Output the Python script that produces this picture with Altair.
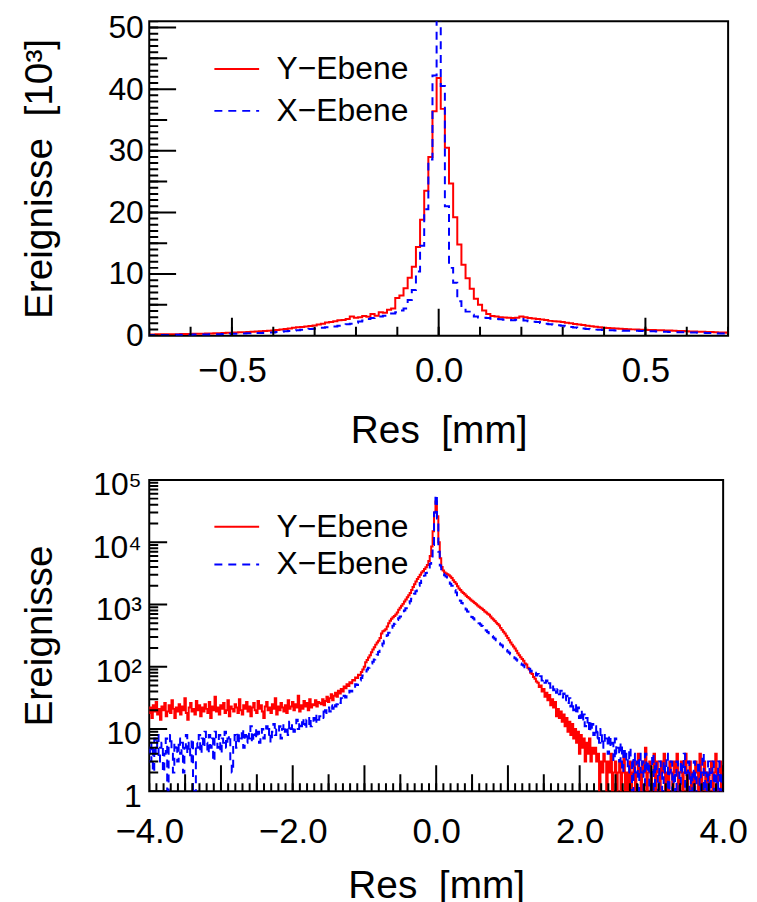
import altair as alt
import pandas as pd
import numpy as np

# ------------------------------------------------------------------ data
SERIES = ["Y\u2212Ebene", "X\u2212Ebene"]
COLORS = ["#ff0000", "#0000ff"]

# top panel: bins of 0.01 mm, centres k*0.01 for k = -70..70, counts in 10^3
top_bin = 0.01
top_first_centre = -0.70
red_top = [
    0.20, 0.20, 0.21, 0.22, 0.22, 0.23, 0.24, 0.25, 0.26, 0.27,
    0.29, 0.30, 0.32, 0.33, 0.35, 0.37, 0.39, 0.41, 0.43, 0.46,
    0.49, 0.51, 0.54, 0.57, 0.60, 0.64, 0.68, 0.72, 0.76, 0.80,
    0.85, 0.92, 1.00, 1.08, 1.18, 1.28, 1.35, 1.42, 1.50, 1.58,
    1.66, 1.80, 1.92, 2.15, 2.20, 2.35, 2.50, 2.55, 2.70, 3.10,
    2.90, 3.00, 3.20, 3.05, 3.50, 3.25, 3.80, 3.70, 4.20, 4.40,
    6.10, 6.50, 7.70, 9.40, 11.2, 14.4, 18.8, 23.5, 29.0, 36.4,
    41.8,
    36.8, 30.5, 24.7, 19.2, 14.8, 11.5, 9.3, 7.6, 6.0, 5.0,
    4.1, 3.5, 3.2, 3.1, 3.0, 2.95, 2.9, 2.85, 2.9, 3.1,
    3.0, 2.85, 2.8, 2.7, 2.62, 2.55, 2.4, 2.35, 2.28, 2.2,
    2.1, 2.0, 1.9, 1.8, 1.72, 1.62, 1.52, 1.45, 1.38, 1.3,
    1.25, 1.2, 1.15, 1.12, 1.08, 1.05, 1.02, 1.0, 0.98, 0.95,
    0.93, 0.9, 0.88, 0.86, 0.84, 0.82, 0.8, 0.77, 0.74, 0.7,
    0.68, 0.66, 0.64, 0.62, 0.6, 0.58, 0.56, 0.53, 0.5, 0.48,
]
blue_top = [
    0.10, 0.10, 0.11, 0.11, 0.12, 0.12, 0.13, 0.13, 0.14, 0.15,
    0.16, 0.17, 0.18, 0.19, 0.20, 0.21, 0.22, 0.24, 0.26, 0.28,
    0.30, 0.32, 0.34, 0.36, 0.38, 0.40, 0.42, 0.44, 0.47, 0.50,
    0.53, 0.58, 0.63, 0.70, 0.76, 0.82, 0.88, 0.95, 1.02, 1.08,
    1.12, 1.20, 1.28, 1.35, 1.42, 1.50, 1.62, 1.70, 1.85, 1.95,
    2.10, 2.30, 2.45, 2.70, 2.85, 3.00, 3.10, 3.25, 3.40, 3.60,
    3.80, 4.10, 4.40, 5.80, 7.40, 10.4, 14.6, 20.5, 28.6, 42.2,
    60.0,
    40.5, 21.0, 11.0, 8.6, 5.6, 4.6, 3.9, 3.4, 3.1, 2.95,
    2.9, 2.85, 2.75, 2.7, 2.65, 2.6, 2.55, 2.5, 2.6, 2.7,
    2.45, 2.35, 2.25, 2.2, 2.05, 1.95, 1.85, 1.78, 1.7, 1.6,
    1.5, 1.42, 1.32, 1.25, 1.15, 1.1, 1.03, 0.98, 0.95, 0.92,
    0.88, 0.86, 0.84, 0.82, 0.8, 0.8, 0.79, 0.78, 0.76, 0.74,
    0.72, 0.7, 0.67, 0.65, 0.63, 0.61, 0.59, 0.57, 0.55, 0.54,
    0.52, 0.5, 0.48, 0.46, 0.44, 0.42, 0.4, 0.37, 0.34, 0.3,
]

# bottom panel: bins of 0.02 mm, centres -4.00 .. 4.00, counts
bot_bin = 0.02
bot_first_centre = -4.00
red_bot = [
    # -4.00 .. -1.62
    18, 22, 15, 24, 19, 27, 17, 21, 14, 23, 20, 26, 16, 19, 24, 18, 29, 21, 15, 22,
    19, 25, 17, 23, 20, 31, 18, 14, 22, 26, 19, 21, 17, 28, 20, 24, 16, 22, 19, 25,
    21, 18, 27, 15, 23, 20, 33, 19, 22, 17, 24, 21, 26, 18, 20, 29, 16, 23, 21, 19,
    25, 22, 18, 30, 20, 17, 24, 21, 27, 19, 23, 16, 22, 26, 20, 18, 28, 21, 24, 19,
    15, 23, 27, 20, 22, 18, 25, 21, 31, 17, 23, 20, 26, 22, 19, 24, 18, 29, 21, 23,
    27, 20, 25, 22, 34, 19, 24, 21, 28, 23, 26, 20, 30, 22, 25, 24, 29, 23, 27, 26,
    # -1.60 .. -1.02
    25, 30, 24, 28, 33, 27, 31, 36, 29, 34, 38, 33, 41, 37, 44, 40, 48, 45, 52, 49,
    56, 54, 61, 60, 67, 66, 74, 73, 82, 90,
    # -1.00 .. -0.12
    100, 118, 128, 140, 152, 170, 188, 205, 226, 245, 262, 290, 340, 372, 380,
    400, 440, 500, 545, 590, 620, 650, 690, 740, 820, 880, 950, 1020, 1110, 1200,
    1300, 1400, 1530, 1700, 1900, 2100, 2330, 2550, 2750, 3000, 3250, 3450, 3700,
    3950, 4300,
    # -0.10 .. 0.10
    5000, 6000, 8500, 15000, 30000, 45000, 26000, 10000, 5500, 4000, 3500,
    # 0.12 .. 1.20
    3250, 3150, 3050, 2950, 2800, 2650, 2450, 2300, 2150, 1950, 1800, 1700, 1600,
    1520, 1450, 1380, 1320, 1260, 1200, 1150, 1100, 1050, 1010, 960, 920, 880, 850,
    810, 770, 740, 710, 680, 640, 600, 570, 540, 510, 485, 460, 420, 390, 365, 340,
    315, 290, 265, 245, 226, 210, 195, 180, 165, 152, 142, 133,
    # 1.22 .. 2.20
    125, 112, 108, 96, 90, 80, 76, 68, 64, 58, 55, 47, 50, 40, 44, 33, 38, 29, 35, 24,
    30, 22, 27, 16, 21, 15, 19, 13, 17, 11, 15, 9, 13, 8, 12, 7, 10, 6, 9, 4,
    8, 5, 7, 3, 6, 4, 7, 3, 5, 4,
    # 2.22 .. 4.00
    5, 3, 4, 0, 3, 2, 4, 3, 1, 3, 2, 4, 1, 2, 3, 0, 2, 3, 1, 2,
    4, 1, 2, 0, 3, 1, 2, 3, 1, 2, 4, 2, 1, 3, 2, 5, 1, 2, 3, 1,
    2, 4, 1, 3, 2, 1, 3, 2, 4, 1, 2, 0, 3, 2, 1, 3, 2, 4, 1, 2,
    3, 1, 2, 4, 1, 2, 3, 1, 2, 1, 3, 2, 1, 4, 1, 2, 3, 1, 2, 0,
    2, 3, 1, 2, 4, 1, 2, 3, 1, 2,
]
blue_bot = [
    # -4.00 .. -1.62
    5, 3, 6, 2, 7, 4, 8, 3, 5, 6, 2, 4, 7, 1, 5, 8, 4, 2, 6, 5,
    3, 7, 4, 6, 2, 5, 8, 4, 6, 3, 7, 0, 1, 6, 5, 8, 4, 7, 5, 9,
    6, 4, 8, 5, 7, 3, 9, 6, 5, 8, 4, 7, 6, 9, 5, 7, 8, 3, 2, 6,
    8, 5, 9, 6, 7, 10, 5, 8, 6, 9, 7, 11, 6, 8, 10, 7, 9, 6, 8, 10,
    7, 9, 11, 8, 10, 6, 9, 12, 8, 10, 9, 11, 7, 10, 12, 9, 11, 8, 13, 10,
    12, 9, 11, 14, 10, 13, 11, 15, 12, 10, 14, 12, 16, 11, 13, 15, 12, 17, 14, 16,
    # -1.60 .. -1.02
    16, 19, 15, 20, 18, 22, 19, 24, 21, 26, 23, 25, 28, 26, 31, 29, 34, 32, 37, 36,
    41, 40, 46, 45, 52, 51, 58, 60, 66, 72,
    # -1.00 .. -0.12
    78, 84, 90, 96, 104, 112, 120, 130, 142, 156, 172, 190, 212, 236, 262,
    290, 320, 350, 385, 420, 455, 490, 525, 560, 600, 640, 690, 740, 800, 870,
    950, 1030, 1120, 1230, 1350, 1480, 1620, 1800, 2000, 2200, 2400, 2650, 2900,
    3200, 3500,
    # -0.10 .. 0.10
    3900, 4500, 5500, 9000, 30000, 58000, 24000, 7000, 4200, 3400, 3100,
    # 0.12 .. 1.20
    2950, 2800, 2550, 2330, 2150, 2000, 1850, 1700, 1550, 1400, 1260, 1150, 1050,
    960, 890, 830, 770, 720, 670, 630, 600, 570, 540, 520, 500, 475, 450, 425, 400,
    380, 360, 345, 330, 310, 295, 280, 265, 250, 238, 228, 218, 205, 195, 185, 176,
    168, 158, 150, 142, 136, 130, 124, 118, 112, 107,
    # 1.22 .. 2.20
    104, 98, 96, 90, 93, 84, 86, 78, 80, 72, 76, 66, 70, 60, 64, 55, 60, 50, 54, 46,
    52, 42, 47, 38, 44, 36, 41, 32, 37, 29, 34, 26, 31, 23, 28, 20, 25, 17, 22, 15,
    20, 13, 17, 11, 15, 10, 14, 9, 12, 8,
    # 2.22 .. 4.00
    11, 7, 9, 6, 10, 5, 8, 6, 7, 4, 8, 5, 6, 3, 7, 4, 5, 3, 6, 2,
    5, 3, 4, 2, 5, 3, 1, 4, 2, 3, 0, 4, 2, 3, 1, 4, 2, 3, 1, 2,
    4, 1, 3, 2, 0, 3, 2, 1, 3, 2, 4, 1, 2, 3, 1, 2, 0, 3, 2, 1,
    3, 2, 4, 1, 2, 3, 1, 2, 0, 3, 1, 2, 3, 1, 2, 4, 1, 2, 0, 3,
    1, 2, 3, 1, 2, 0, 3, 1, 2, 1,
]

top_x_labels = [-0.5, 0.0, 0.5]
top_y_labels = [0, 10, 20, 30, 40, 50]
bot_x_labels = [-4.0, -2.0, 0.0, 2.0, 4.0]
bot_y_labels = [1, 10, 100, 1000, 10000, 100000]

X_TITLE = "Res \u00a0[mm]"
Y_TITLE_TOP = "Ereignisse \u00a0[10\u00b3]"
Y_TITLE_BOT = "Ereignisse"

# ------------------------------------------------------------------ helpers
FONT = "Liberation Sans"
TITLE_SIZE = 39


def step_frame(first_centre, width, values, name, floor=None):
    vals = np.asarray(values, dtype=float)
    if floor is not None:
        vals = np.where(vals <= 0, floor, vals)
    left = first_centre - width / 2 + width * np.arange(len(vals))
    xs = np.append(left, left[-1] + width)
    ys = np.append(vals, vals[-1])
    return pd.DataFrame({"x": xs, "y": ys, "s": name, "o": np.arange(len(xs))})


def tick_rules(values, length, which, plot_len):
    if which == "x":
        df = pd.DataFrame({"x": values})
        return alt.Chart(df).mark_rule(color="black", strokeWidth=2, clip=True).encode(
            x=alt.X("x:Q"),
            y=alt.value(plot_len),
            y2=alt.value(plot_len - length),
        )
    df = pd.DataFrame({"y": values})
    return alt.Chart(df).mark_rule(color="black", strokeWidth=2, clip=True).encode(
        y=alt.Y("y:Q"),
        x=alt.value(0),
        x2=alt.value(length),
    )


def legend(x, y, row_pad):
    return alt.Legend(
        title=None, orient="none", legendX=x, legendY=y, padding=0,
        symbolType="M-1.5,0H1.5", symbolSize=900, symbolStrokeWidth=2,
        symbolFillColor="transparent",
        labelFont=FONT, labelFontSize=32, labelColor="black",
        labelOffset=24, rowPadding=row_pad,
    )


def panel(df, xscale, yscale, xaxis, yaxis, leg):
    color = alt.Color("s:N", scale=alt.Scale(domain=SERIES, range=COLORS), legend=leg)
    dash = alt.StrokeDash("s:N", scale=alt.Scale(domain=SERIES, range=[[1, 0], [8, 6]]), legend=leg)
    return alt.Chart(df).mark_line(interpolate="step-after", strokeWidth=2, clip=True).encode(
        x=alt.X("x:Q", scale=xscale, axis=xaxis),
        y=alt.Y("y:Q", scale=yscale, axis=yaxis),
        color=color,
        strokeDash=dash,
        order="o:Q",
        detail="s:N",
    )


def axis(values, title, label_size, label_pad, **extra):
    kw = dict(
        values=values, ticks=False, tickSize=0, domain=False, grid=False,
        labelFont=FONT, labelFontSize=label_size, labelColor="black",
        labelPadding=label_pad,
        title=title, titleFont=FONT, titleFontSize=TITLE_SIZE, titleFontWeight="normal",
        titleColor="black", labelFlush=False,
    )
    kw.update(extra)
    return alt.Axis(**kw)


# ------------------------------------------------------------------ top panel
W1, H1 = 582, 316
top_df = pd.concat([
    step_frame(top_first_centre, top_bin, red_top, SERIES[0]),
    step_frame(top_first_centre, top_bin, blue_top, SERIES[1]),
])
xs1 = alt.Scale(domain=[-0.7, 0.7], nice=False, zero=False)
ys1 = alt.Scale(domain=[0, 51], nice=False, zero=False)
xaxis1 = axis(top_x_labels, X_TITLE, 35, 18, titleY=76, format=".1f")
yaxis1 = axis(top_y_labels, Y_TITLE_TOP, 32, 6, titleX=-90, format="d")

top_ticks_x_minor = [round(v, 1) for v in np.arange(-0.7, 0.71, 0.1)]
top = alt.layer(
    panel(top_df, xs1, ys1, xaxis1, yaxis1, legend(72, 32, 10)),
    tick_rules(top_ticks_x_minor, 9, "x", H1),
    tick_rules([-0.5, 0.5], 18, "x", H1),
    tick_rules([0.0], 27, "x", H1),
    tick_rules(list(range(0, 52)), 9, "y", H1),
    tick_rules([5, 15, 25, 35, 45], 18, "y", H1),
    tick_rules([0, 10, 20, 30, 40, 50], 27, "y", H1),
).properties(width=W1, height=H1)

# ------------------------------------------------------------------ bottom panel
W2, H2 = 577, 313
bot_df = pd.concat([
    step_frame(bot_first_centre, bot_bin, red_bot, SERIES[0], floor=0.05),
    step_frame(bot_first_centre, bot_bin, blue_bot, SERIES[1], floor=0.05),
])
xs2 = alt.Scale(domain=[-4, 4], nice=False, zero=False)
ys2 = alt.Scale(type="log", domain=[1, 100000], nice=False)
xaxis2 = axis(bot_x_labels, X_TITLE, 35, 24, titleY=76, format=".1f")
sup = "['','','\u00b2','\u00b3','\u2074','\u2075'][round(log(datum.value)/LN10)]"
yaxis2 = axis(
    bot_y_labels, Y_TITLE_BOT, 32, 8, titleX=-90, labelOffset=5,
    labelExpr=f"datum.value < 2 ? '1' : datum.value < 20 ? '10' : '10' + {sup}",
)

bot_minor_x = [round(v, 1) for v in np.arange(-4.0, 4.01, 0.1)]
bot_half_x = [round(v, 1) for v in np.arange(-3.5, 4.0, 1.0)]
bot_major_x = list(range(-4, 5))
log_minor = [m * 10 ** d for d in range(5) for m in range(2, 10)]
bottom = alt.layer(
    panel(bot_df, xs2, ys2, xaxis2, yaxis2, legend(72, 31, 6)),
    tick_rules(bot_minor_x, 8, "x", H2),
    tick_rules(bot_half_x, 17, "x", H2),
    tick_rules(bot_major_x, 26, "x", H2),
    tick_rules(log_minor, 9, "y", H2),
    tick_rules(bot_y_labels, 18, "y", H2),
).properties(width=W2, height=H2)

chart = alt.vconcat(top, bottom, spacing=145, bounds="flush").resolve_scale(
    color="independent", strokeDash="independent"
).configure(
    padding={"left": 12, "top": 0, "right": 0, "bottom": 0}, background="white"
).configure_view(
    stroke="black", strokeWidth=2
)

chart.save("out.html", embed_options={"renderer": "svg", "actions": False})
